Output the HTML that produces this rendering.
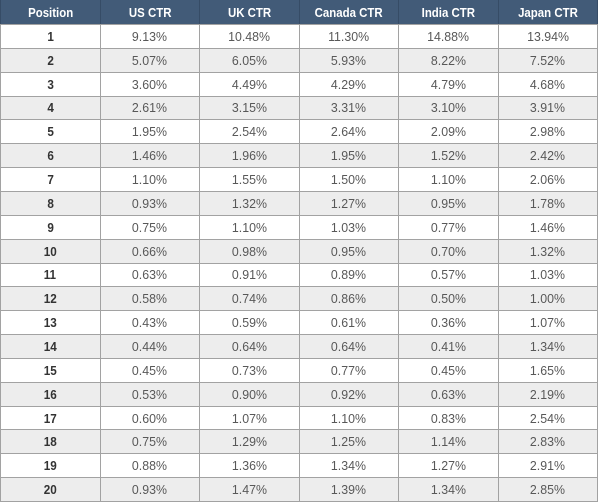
<!DOCTYPE html>
<html>
<head>
<meta charset="utf-8">
<style>
  html, body { margin:0; padding:0; background:#ffffff; }
  body { width:600px; height:504px; overflow:hidden; position:relative; }
  .grid {
    position:absolute; left:0; top:0;
    width:598px; height:502px;
    box-sizing:border-box;
    padding:0 1px 1px 1px;
    display:grid;
    grid-template-columns: repeat(6, 1fr);
    grid-template-rows: 24px repeat(20, 1fr);
    gap:1px;
    background: linear-gradient(#364c66 0 24px, #a2a2a2 24px);
  }
  .grid > div {
    display:flex; align-items:center; justify-content:center;
    font-family:"Liberation Sans", Arial, sans-serif;
    font-size:13px; color:#585858;
    overflow:hidden; white-space:nowrap;
  }
  .grid > div span { display:inline-block; transform:scaleX(0.95); }
  .h { background:#425b78; color:#ffffff !important; font-weight:bold; font-size:13px !important; }
  .h span { transform:scaleX(0.88) !important; }
  .w { background:#ffffff; }
  .g { background:#ededed; }
  .p { font-weight:bold; color:#333333 !important; }
  .p span { transform:scaleX(0.9) !important; }
</style>
</head>
<body>
<div class="grid">
  <div class="h"><span>Position</span></div>
  <div class="h"><span>US CTR</span></div>
  <div class="h"><span>UK CTR</span></div>
  <div class="h"><span>Canada CTR</span></div>
  <div class="h"><span>India CTR</span></div>
  <div class="h"><span>Japan CTR</span></div>

  <div class="w p"><span>1</span></div><div class="w"><span>9.13%</span></div><div class="w"><span>10.48%</span></div><div class="w"><span>11.30%</span></div><div class="w"><span>14.88%</span></div><div class="w"><span>13.94%</span></div>
  <div class="g p"><span>2</span></div><div class="g"><span>5.07%</span></div><div class="g"><span>6.05%</span></div><div class="g"><span>5.93%</span></div><div class="g"><span>8.22%</span></div><div class="g"><span>7.52%</span></div>
  <div class="w p"><span>3</span></div><div class="w"><span>3.60%</span></div><div class="w"><span>4.49%</span></div><div class="w"><span>4.29%</span></div><div class="w"><span>4.79%</span></div><div class="w"><span>4.68%</span></div>
  <div class="g p"><span>4</span></div><div class="g"><span>2.61%</span></div><div class="g"><span>3.15%</span></div><div class="g"><span>3.31%</span></div><div class="g"><span>3.10%</span></div><div class="g"><span>3.91%</span></div>
  <div class="w p"><span>5</span></div><div class="w"><span>1.95%</span></div><div class="w"><span>2.54%</span></div><div class="w"><span>2.64%</span></div><div class="w"><span>2.09%</span></div><div class="w"><span>2.98%</span></div>
  <div class="g p"><span>6</span></div><div class="g"><span>1.46%</span></div><div class="g"><span>1.96%</span></div><div class="g"><span>1.95%</span></div><div class="g"><span>1.52%</span></div><div class="g"><span>2.42%</span></div>
  <div class="w p"><span>7</span></div><div class="w"><span>1.10%</span></div><div class="w"><span>1.55%</span></div><div class="w"><span>1.50%</span></div><div class="w"><span>1.10%</span></div><div class="w"><span>2.06%</span></div>
  <div class="g p"><span>8</span></div><div class="g"><span>0.93%</span></div><div class="g"><span>1.32%</span></div><div class="g"><span>1.27%</span></div><div class="g"><span>0.95%</span></div><div class="g"><span>1.78%</span></div>
  <div class="w p"><span>9</span></div><div class="w"><span>0.75%</span></div><div class="w"><span>1.10%</span></div><div class="w"><span>1.03%</span></div><div class="w"><span>0.77%</span></div><div class="w"><span>1.46%</span></div>
  <div class="g p"><span>10</span></div><div class="g"><span>0.66%</span></div><div class="g"><span>0.98%</span></div><div class="g"><span>0.95%</span></div><div class="g"><span>0.70%</span></div><div class="g"><span>1.32%</span></div>
  <div class="w p"><span>11</span></div><div class="w"><span>0.63%</span></div><div class="w"><span>0.91%</span></div><div class="w"><span>0.89%</span></div><div class="w"><span>0.57%</span></div><div class="w"><span>1.03%</span></div>
  <div class="g p"><span>12</span></div><div class="g"><span>0.58%</span></div><div class="g"><span>0.74%</span></div><div class="g"><span>0.86%</span></div><div class="g"><span>0.50%</span></div><div class="g"><span>1.00%</span></div>
  <div class="w p"><span>13</span></div><div class="w"><span>0.43%</span></div><div class="w"><span>0.59%</span></div><div class="w"><span>0.61%</span></div><div class="w"><span>0.36%</span></div><div class="w"><span>1.07%</span></div>
  <div class="g p"><span>14</span></div><div class="g"><span>0.44%</span></div><div class="g"><span>0.64%</span></div><div class="g"><span>0.64%</span></div><div class="g"><span>0.41%</span></div><div class="g"><span>1.34%</span></div>
  <div class="w p"><span>15</span></div><div class="w"><span>0.45%</span></div><div class="w"><span>0.73%</span></div><div class="w"><span>0.77%</span></div><div class="w"><span>0.45%</span></div><div class="w"><span>1.65%</span></div>
  <div class="g p"><span>16</span></div><div class="g"><span>0.53%</span></div><div class="g"><span>0.90%</span></div><div class="g"><span>0.92%</span></div><div class="g"><span>0.63%</span></div><div class="g"><span>2.19%</span></div>
  <div class="w p"><span>17</span></div><div class="w"><span>0.60%</span></div><div class="w"><span>1.07%</span></div><div class="w"><span>1.10%</span></div><div class="w"><span>0.83%</span></div><div class="w"><span>2.54%</span></div>
  <div class="g p"><span>18</span></div><div class="g"><span>0.75%</span></div><div class="g"><span>1.29%</span></div><div class="g"><span>1.25%</span></div><div class="g"><span>1.14%</span></div><div class="g"><span>2.83%</span></div>
  <div class="w p"><span>19</span></div><div class="w"><span>0.88%</span></div><div class="w"><span>1.36%</span></div><div class="w"><span>1.34%</span></div><div class="w"><span>1.27%</span></div><div class="w"><span>2.91%</span></div>
  <div class="g p"><span>20</span></div><div class="g"><span>0.93%</span></div><div class="g"><span>1.47%</span></div><div class="g"><span>1.39%</span></div><div class="g"><span>1.34%</span></div><div class="g"><span>2.85%</span></div>
</div>
</body>
</html>
